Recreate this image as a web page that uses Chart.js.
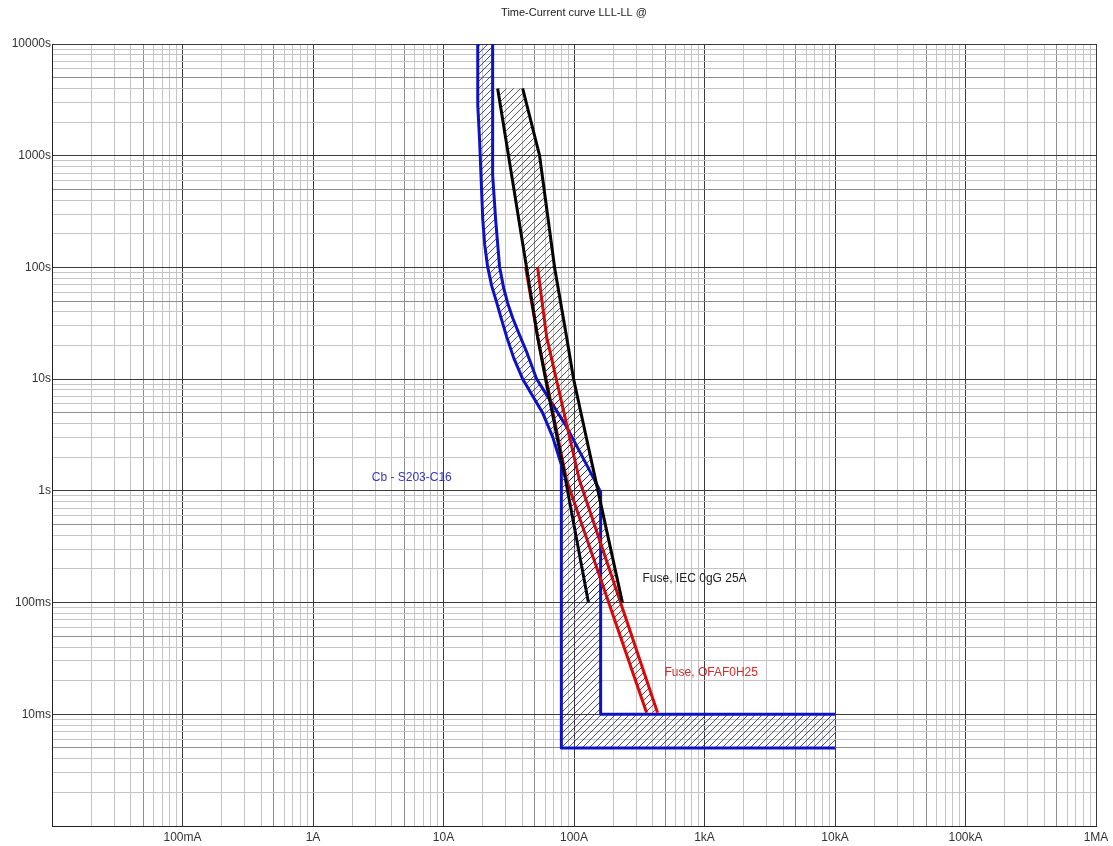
<!DOCTYPE html>
<html><head><meta charset="utf-8">
<script src="https://cdn.jsdelivr.net/npm/chart.js@4.4.1/dist/chart.umd.min.js"></script>
<style>html,body{margin:0;padding:0;background:#fff;}#c{display:block;}</style>
</head><body>
<canvas id="c" width="1113" height="846"></canvas>
<script>
// ---------- tick labels ----------
const xTickValues = [0.1, 1, 10, 100, 1000, 10000, 100000, 1000000];
const xTickLabels = ['100mA', '1A', '10A', '100A', '1kA', '10kA', '100kA', '1MA'];
const yTickValues = [0.01, 0.1, 1, 10, 100, 1000, 10000];
const yTickLabels = ['10ms', '100ms', '1s', '10s', '100s', '1000s', '10000s'];

// ---------- Cb - S203-C16 (current A / time s) ----------
const cbMinI = [18.3, 18.3, 18.9, 19.3, 20.0, 20.7, 21.8, 23.4, 25.6, 27.9, 30.5, 34.5, 40.4, 48.2, 57.5, 68.6, 80, 80, 10000];
const cbMinT = [10000, 2846, 1383, 746, 266, 159, 101, 68.3, 48.1, 33.9, 23.9, 15.5, 10.05, 7.08, 4.99, 3.04, 1.71, 0.005, 0.005];
const cbMaxI = [23.8, 23.8, 25.1, 26.9, 28.9, 31.0, 33.9, 37.7, 43.4, 51.7, 67.4, 87.8, 125, 157, 160, 160, 10000];
const cbMaxT = [10000, 673, 266, 101, 65.6, 48.1, 35.3, 25.9, 17.5, 10.05, 6.13, 3.74, 1.71, 1.02, 0.98, 0.01, 0.01];

// ---------- Fuse, IEC 0gG 25A ----------
const iecMinI = [26.0, 43.3, 52.6, 60.6, 86.2, 129];
const iecMinT = [4000, 100, 23.9, 10, 1.25, 0.1];
const iecMaxI = [40.4, 54.5, 71.0, 87.7, 99.3, 113, 137, 235];
const iecMaxT = [4000, 1000, 100, 23.9, 10, 5, 1.78, 0.1];

// ---------- Fuse, OFAF0H25 ----------
const ofaMinI = [42.6, 52.6, 87.7, 360];
const ofaMinT = [100, 23.9, 1.25, 0.0103];
const ofaMaxI = [52.6, 61.7, 110, 437];
const ofaMaxT = [100, 23.9, 1.25, 0.0103];

// ---------- annotations ----------
const noteTexts = ['Cb - S203-C16', 'Fuse, IEC 0gG 25A', 'Fuse, OFAF0H25'];
const noteI = [2.82, 335, 494];
const noteT = [1.3, 0.163, 0.0235];
const noteColors = ['#3535c8', '#222222', '#d42a2a'];

const FONT = '"Liberation Sans", Arial, sans-serif';
const canvas = document.getElementById('c');
const mainCtx = canvas.getContext('2d');

function pts(I, T) { return I.map((v, i) => ({x: v, y: T[i]})); }
function band(aI, aT, bI, bT) { return pts(aI, aT).concat(pts(bI, bT).reverse()); }
function hatch(color) {
  const s = 7;
  const c = document.createElement('canvas'); c.width = s; c.height = s;
  const g = c.getContext('2d');
  g.strokeStyle = color; g.lineWidth = 0.9;
  g.beginPath();
  g.moveTo(0, s); g.lineTo(s, 0);
  g.moveTo(-1, 1); g.lineTo(1, -1);
  g.moveTo(s - 1, s + 1); g.lineTo(s + 1, s - 1);
  g.stroke();
  return mainCtx.createPattern(c, 'repeat');
}
function logTicks(lo, hi) {
  const t = [];
  for (let e = lo; e < hi; e++) for (let m = 1; m <= 9; m++) t.push({value: Number((m * Math.pow(10, e)).toPrecision(6))});
  t.push({value: Math.pow(10, hi)});
  return t;
}
function mant(v) { return Math.round(v / Math.pow(10, Math.floor(Math.log10(v) + 1e-9))); }
function gridColor(ctx) {
  const v = ctx.tick && ctx.tick.value;
  if (!v) return '#c6c6c6';
  const m = mant(v);
  return m === 1 ? '#3a3a3a' : (m === 5 ? '#8e8e8e' : '#c4c4c4');
}
function labelFor(vals, labs) {
  return function (v) {
    const i = vals.findIndex(t => Math.abs(t / v - 1) < 1e-6);
    return i >= 0 ? labs[i] : '';
  };
}
const lineDS = (data, color) => ({data, borderColor: color, borderWidth: 3, pointRadius: 0, fill: false, tension: 0, borderCapStyle: 'butt', borderJoinStyle: 'round'});
const fillDS = (data, pattern) => ({data, borderWidth: 0, borderColor: 'rgba(0,0,0,0)', backgroundColor: pattern, pointRadius: 0, fill: 'shape', tension: 0});

const notesPlugin = {
  id: 'notes',
  afterDatasetsDraw(chart) {
    const {ctx, scales: {x, y}} = chart;
    ctx.save();
    ctx.font = '12px ' + FONT;
    ctx.textAlign = 'left';
    ctx.textBaseline = 'middle';
    noteTexts.forEach((t, i) => {
      ctx.fillStyle = noteColors[i];
      ctx.fillText(t, x.getPixelForValue(noteI[i]), y.getPixelForValue(noteT[i]));
    });
    ctx.restore();
  }
};

const BLUE = '#0c12c8', RED = '#e00808', BLACK = '#000000';

new Chart(mainCtx, {
  type: 'line',
  data: {
    datasets: [
      fillDS(band(cbMinI, cbMinT, cbMaxI, cbMaxT), hatch('rgba(25,25,110,0.85)')),
      fillDS(band(iecMinI, iecMinT, iecMaxI, iecMaxT), hatch('rgba(40,40,40,0.85)')),
      fillDS(band(ofaMinI, ofaMinT, ofaMaxI, ofaMaxT), hatch('rgba(120,10,10,0.9)')),
      lineDS(pts(iecMinI, iecMinT), BLACK),
      lineDS(pts(iecMaxI, iecMaxT), BLACK),
      lineDS(pts(ofaMinI, ofaMinT), RED),
      lineDS(pts(ofaMaxI, ofaMaxT), RED),
      lineDS(pts(cbMinI, cbMinT), BLUE),
      lineDS(pts(cbMaxI, cbMaxT), BLUE)
    ]
  },
  options: {
    responsive: false,
    animation: false,
    devicePixelRatio: 1,
    layout: {padding: {left: 0, right: 17, top: 0, bottom: 0}},
    plugins: {
      legend: {display: false},
      tooltip: {enabled: false},
      title: {
        display: true, fullSize: false,
        text: 'Time-Current curve LLL-LL @',
        color: '#222',
        font: {family: FONT, size: 11, weight: 'normal'},
        padding: {top: 6, bottom: 24.8}
      }
    },
    scales: {
      x: {
        type: 'logarithmic', min: 0.01, max: 1000000,
        afterBuildTicks: s => { s.ticks = logTicks(-2, 6); },
        afterFit: s => { s.height = 20; },
        ticks: {autoSkip: false, maxRotation: 0, minRotation: 0, padding: 4, color: '#333',
          font: {family: FONT, size: 12}, callback: labelFor(xTickValues, xTickLabels)},
        grid: {color: gridColor, lineWidth: 1, drawTicks: false},
        border: {display: true, color: '#222', width: 1}
      },
      y: {
        type: 'logarithmic', min: 0.001, max: 10000,
        afterBuildTicks: s => { s.ticks = logTicks(-3, 4); },
        afterFit: s => { s.width = 52; },
        ticks: {autoSkip: false, padding: 1, color: '#333',
          font: {family: FONT, size: 12}, callback: labelFor(yTickValues, yTickLabels)},
        grid: {color: gridColor, lineWidth: 1, drawTicks: false},
        border: {display: true, color: '#222', width: 1}
      }
    }
  },
  plugins: [notesPlugin]
});
</script>
</body></html>
